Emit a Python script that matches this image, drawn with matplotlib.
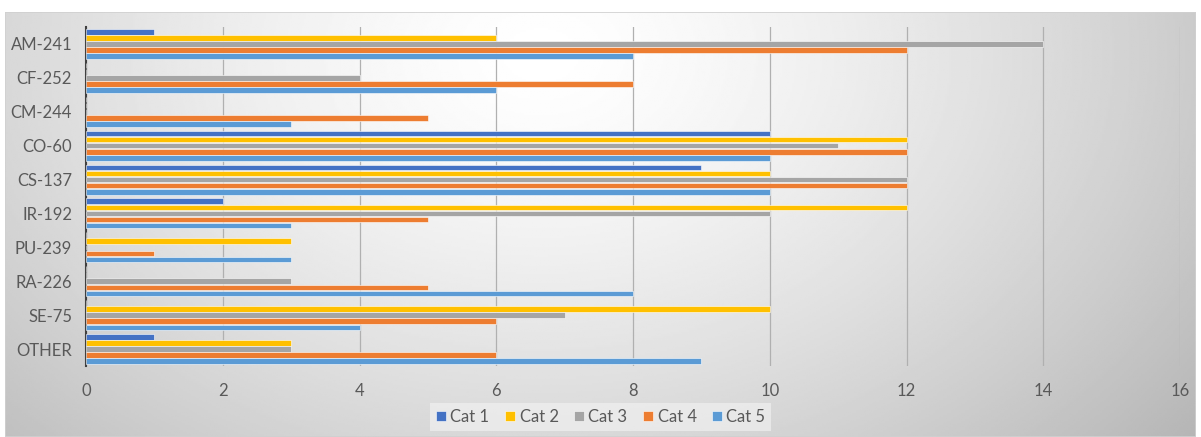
import numpy as np
import matplotlib
matplotlib.use('Agg')
from matplotlib import pyplot as plt
from matplotlib.patches import Rectangle

plt.rcParams['font.family'] = ['Lato', 'DejaVu Sans']

isotopes = ['AM-241', 'CF-252', 'CM-244', 'CO-60', 'CS-137',
            'IR-192', 'PU-239', 'RA-226', 'SE-75', 'OTHER']
series = ['Cat 1', 'Cat 2', 'Cat 3', 'Cat 4', 'Cat 5']
cat1 = [1, 0, 0, 10, 9, 2, 0, 0, 0, 1]
cat2 = [6, 0, 0, 12, 10, 12, 3, 0, 10, 3]
cat3 = [14, 4, 0, 11, 12, 10, 0, 3, 7, 3]
cat4 = [12, 8, 5, 12, 12, 5, 1, 5, 6, 6]
cat5 = [8, 6, 3, 10, 10, 3, 3, 8, 4, 9]
colores = ['#4472C4', '#FFC000', '#A5A5A5', '#ED7D31', '#5B9BD5']
xticks = [0, 2, 4, 6, 8, 10, 12, 14, 16]

fig = plt.figure(figsize=(12.01, 4.37), dpi=100)

# fondo con degradado radial
bg = fig.add_axes([5/1201, 0, 1191/1201, 425/437])
ny, nx = 200, 600
yy, xx = np.mgrid[0:1:ny*1j, 0:1:nx*1j]
r = np.sqrt(((xx - 0.45)/0.62) ** 2 + ((yy - 0.9)/1.25) ** 2)
r = np.clip(r, 0, 1.2)
val = 1.0 - 0.24*r**1.4
bg.imshow(val, cmap='gray', vmin=0, vmax=1, extent=[0, 1, 0, 1],
          origin='lower', aspect='auto')
bg.add_patch(Rectangle((0, 0), 1, 1, fill=False, edgecolor='#d0d0d0',
                       lw=1.2, transform=bg.transAxes))
bg.set_axis_off()

ax = fig.add_axes([86/1201, 71/437, 1094/1201, 339/437])
ax.patch.set_alpha(0)

datos = [cat1, cat2, cat3, cat4, cat5]
n = len(isotopes)
y = np.arange(n)
paso = 0.18
for i, (vals, nom, c) in enumerate(zip(datos, series, colores)):
    ax.barh(y - 2*paso + i*paso, vals, height=paso*0.92, color=c,
            edgecolor='white', linewidth=0.4, label=nom, zorder=3)

ax.set_ylim(n - 0.5, -0.5)
ax.set_xlim(0, 16)
ax.set_xticks(xticks)
ax.set_yticks(y)
ax.set_yticklabels(isotopes)
ax.tick_params(axis='both', length=0, colors='#595959', labelsize=12)
ax.tick_params(axis='x', pad=12)
ax.tick_params(axis='y', pad=10)
ax.grid(axis='x', color='#b0b0b0', linewidth=0.9, zorder=0)
for s in ['top', 'right', 'bottom']:
    ax.spines[s].set_visible(False)
ax.spines['left'].set_color('#404040')
ax.spines['left'].set_linewidth(1.5)

leg = fig.legend(loc='center', bbox_to_anchor=(0.5, 20/437), ncol=5,
                 frameon=True, fontsize=12, handlelength=0.6,
                 handleheight=0.6, handletextpad=0.3, columnspacing=0.9,
                 borderpad=0.35)
leg.get_frame().set_facecolor('#f4f4f4')
leg.get_frame().set_alpha(0.6)
leg.get_frame().set_edgecolor('none')
leg.get_frame().set_boxstyle('square', pad=0)
for t in leg.get_texts():
    t.set_color('#595959')

fig.savefig('out.png', dpi=100)
